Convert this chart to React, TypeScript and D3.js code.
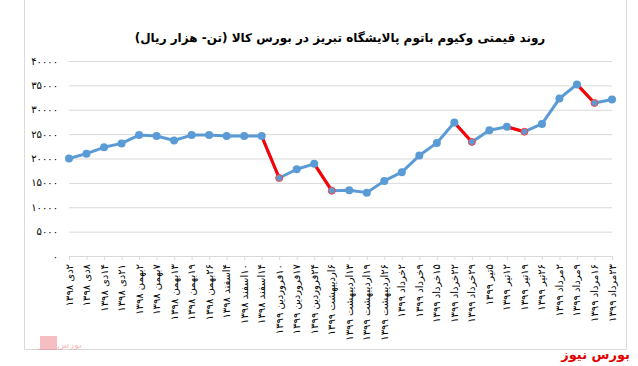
import React from "react";
import * as d3 from "d3";

// تاریخ‌ها (محور افقی)
const dates = [
  "۲دی ۱۳۹۸", "۸دی ۱۳۹۸", "۱۴دی ۱۳۹۸", "۲۱دی ۱۳۹۸", "۲بهمن ۱۳۹۸", "۷بهمن ۱۳۹۸",
  "۱۳بهمن ۱۳۹۸", "۱۹بهمن ۱۳۹۸", "۲۶بهمن ۱۳۹۸", "۴اسفند ۱۳۹۸", "۱۰اسفند ۱۳۹۸", "۱۴اسفند ۱۳۹۸",
  "۱۰فروردین ۱۳۹۹", "۱۷فروردین ۱۳۹۹", "۲۴فروردین ۱۳۹۹", "۶اردیبهشت ۱۳۹۹", "۱۳اردیبهشت ۱۳۹۹",
  "۱۹اردیبهشت ۱۳۹۹", "۲۶اردیبهشت ۱۳۹۹", "۲خرداد ۱۳۹۹", "۹خرداد ۱۳۹۹", "۱۵خرداد ۱۳۹۹",
  "۲۲خرداد ۱۳۹۹", "۲۹خرداد ۱۳۹۹", "۵تیر ۱۳۹۹", "۱۲تیر ۱۳۹۹", "۱۹تیر ۱۳۹۹", "۲۶تیر ۱۳۹۹",
  "۲مرداد ۱۳۹۹", "۹مرداد ۱۳۹۹", "۱۶مرداد ۱۳۹۹", "۲۳مرداد ۱۳۹۹",
];

// قیمت (هزار ریال / تن)
const prices = [
  20000, 21000, 22300, 23100, 24800, 24600, 23700, 24800, 24800, 24600, 24600, 24600,
  16000, 17800, 18900, 13400, 13500, 13000, 15400, 17200, 20600, 23200, 27400, 23400,
  25800, 26500, 25500, 27100, 32300, 35200, 31400, 32100,
];

// segments drawn red (index of start point)
const redSegments = [11, 14, 22, 25, 29];

const yTicks = [0, 5000, 10000, 15000, 20000, 25000, 30000, 35000, 40000];

const title = "روند قیمتی وکیوم باتوم پالایشگاه تبریز در بورس کالا (تن- هزار ریال)";
const brand = "بورس نیوز";

const toFa = (s: string) => s.replace(/\d/g, (c) => "۰۱۲۳۴۵۶۷۸۹"[+c]);

const W = 638;
const H = 366;
const font = "'DejaVu Sans', sans-serif";

export default function App() {
  const x = d3.scalePoint<number>().domain(d3.range(dates.length)).range([69, 612]);
  const y = d3.scaleLinear().domain([0, 40000]).range([256, 61]);
  const line = d3
    .line<number>()
    .x((d, i) => x(i)!)
    .y((d) => y(d));

  const blue = "#5B9BD5";
  const red = "#FF0000";

  return (
    <svg
      width={W}
      height={H}
      style={{ position: "absolute", left: 0, top: 0, background: "#fff" }}
      fontFamily={font}
    >
      {/* frame */}
      <path d="M24.5,0 V349.5 H626.5 V0" fill="none" stroke="#D9D9D9" strokeWidth={1} />

      <text
        x={340}
        y={42}
        textAnchor="middle"
        direction="rtl"
        fontSize={12}
        fontWeight="bold"
        fill="#000"
      >
        {title}
      </text>

      {/* grid */}
      {yTicks.map((t) => (
        <g key={t}>
          <line x1={69} x2={612} y1={y(t) + 0.5} y2={y(t) + 0.5} stroke="#D9D9D9" />
          <text x={58} y={y(t)} dy="0.35em" textAnchor="end" fontSize={10} fill="#000">
            {toFa(String(t))}
          </text>
        </g>
      ))}

      {/* x ticks & labels */}
      {dates.map((d, i) => (
        <g key={i}>
          <line x1={x(i)! + 0.5} x2={x(i)! + 0.5} y1={256} y2={260} stroke="#D9D9D9" />
          <text
            transform={`translate(${x(i)},264) rotate(-90)`}
            direction="rtl"
            textAnchor="start"
            dy="0.35em"
            fontSize={10}
            fill="#000"
          >
            {d}
          </text>
        </g>
      ))}

      {/* series */}
      <path d={line(prices) ?? ""} fill="none" stroke={blue} strokeWidth={3} strokeLinejoin="round" />
      {redSegments.map((s) => (
        <line
          key={s}
          x1={x(s)}
          y1={y(prices[s])}
          x2={x(s + 1)}
          y2={y(prices[s + 1])}
          stroke={red}
          strokeWidth={3}
        />
      ))}
      {prices.map((v, i) => {
        const isRed = redSegments.includes(i - 1);
        return (
          <circle
            key={i}
            cx={x(i)}
            cy={y(v)}
            r={isRed ? 3.5 : 4}
            fill={blue}
            stroke={isRed ? "#FF4040" : blue}
            strokeWidth={isRed ? 1 : 0}
          />
        );
      })}

      {/* watermark */}
      <g opacity={0.45}>
        <rect x={40} y={336} width={17} height={14} fill="#E8707A" />
        <text x={38} y={348} textAnchor="end" direction="rtl" fontSize={10} fill="#E8707A">
          {brand}
        </text>
      </g>

      <text x={630} y={359} textAnchor="start" direction="rtl" fontSize={13} fontWeight="bold" fill="#E30000">
        {brand}
      </text>
    </svg>
  );
}
